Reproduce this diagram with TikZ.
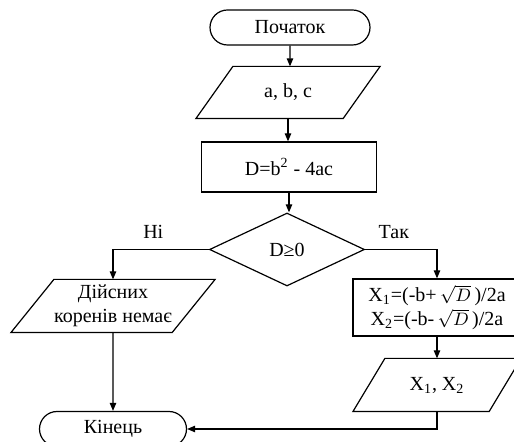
\documentclass[tikz,border=0pt]{standalone}
\usepackage{fontspec}
\setmainfont{Liberation Serif}
\usetikzlibrary{shapes.geometric,shapes.misc,arrows.meta}

% slanted outline round a node: #1 node, #2 half of the slant
\newcommand{\iobox}[2]{%
  \draw ([xshift=#2]#1.north west) -- ([xshift=#2]#1.north east)
    -- ([xshift=-#2]#1.south east) -- ([xshift=-#2]#1.south west) -- cycle;}

\begin{document}
\begin{tikzpicture}[x=0.5pt,y=-0.5pt,line width=0.6pt,
    >={Triangle[length=4pt,width=3.2pt]},
    every node/.style={inner sep=0pt,align=center,font=\fontsize{10}{12}\selectfont},
    term/.style={draw,rounded rectangle,minimum width=#1,minimum height=17.5pt},
    io/.style={rectangle,minimum width=#1,minimum height=26pt},
    proc/.style={draw,rectangle,minimum height=#1}]
    \useasboundingbox (0,0) rectangle (514,442);

    \node[term=80pt] (start) at (290,27.5) {Початок};
    \node[io=73pt,minimum height=25.5pt] (abc) at (288,92.5) {a, b, c};
    \node[proc=25pt,minimum width=87.5pt] (disc) at (289,167) {D=b\textsuperscript{2} - 4ac};
    \node[draw,diamond,minimum width=77.5pt,minimum height=36.5pt] (cond) at (287,249.5) {D≥0};
    \node[io=80pt] (noroots) at (113,306) {Дійсних\\коренів немає};
    \node[proc=28.5pt,minimum width=84pt] (roots) at (437,307.5)
        {X\textsubscript{1}=(-b+\,{\fontsize{9}{12}\selectfont$\sqrt{D}$}\,)/2a\\
         X\textsubscript{2}=(-b-\,{\fontsize{9}{12}\selectfont$\sqrt{D}$}\,)/2a};
    \node[io=67.5pt] (out) at (437,385) {X\textsubscript{1}, X\textsubscript{2}};
    \node[term=73.5pt] (stop) at (113,429) {Кінець};

    \iobox{abc}{9.25pt}
    \iobox{noroots}{10.75pt}
    \iobox{out}{8pt}

    \draw[->] (start) -- (start |- abc.north);
    \draw[->] (abc) -- (abc |- disc.north);
    \draw[->] (disc) -- (disc |- cond.north);
    \draw[->] (cond.west) -| node[pos=0.29,above=5pt] (no) {Ні} (noroots.north);
    \draw[->] (cond.east) -| node[pos=0.2,above=5pt] (yes) {Так} (roots.north);
    \draw[->] (noroots) -- (stop);
    \draw[->] (roots) -- (out);
    \draw[->] (out.south) |- (stop.east);
\end{tikzpicture}
\end{document}
